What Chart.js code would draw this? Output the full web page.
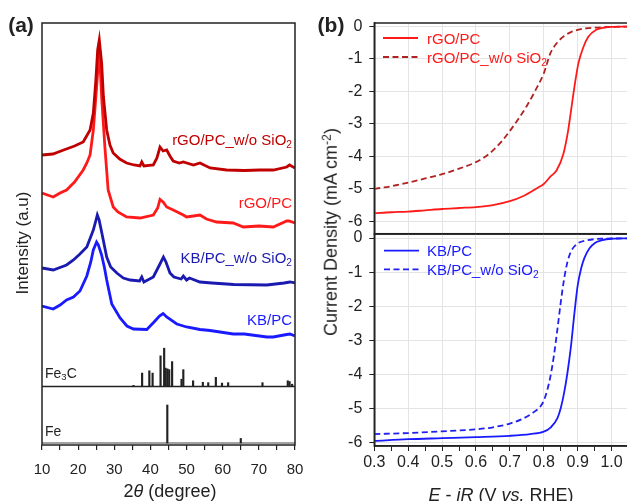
<!DOCTYPE html>
<html>
<head>
<meta charset="utf-8">
<script src="https://cdn.jsdelivr.net/npm/chart.js@4.4.0/dist/chart.umd.min.js"></script>
<style>
  html, body { margin: 0; padding: 0; background: #fff; overflow: hidden; }
  #wrap { position: relative; width: 627px; height: 501px; font-family: Arial, "Liberation Sans", sans-serif; color: #222; }
  canvas { position: absolute; }
  .t { position: absolute; white-space: nowrap; line-height: 1; }
  .c { transform: translate(-50%, -50%); }
  .r { transform: translate(-50%, -50%) rotate(-90deg); }
  .sub { font-size: 0.68em; vertical-align: -0.25em; }
  .sup { font-size: 0.68em; vertical-align: 0.45em; }
</style>
</head>
<body>
<div id="wrap">
  <canvas id="xrd" width="310" height="501" style="left:0;top:0"></canvas>
  <canvas id="lsvTop" width="320" height="235" style="left:310px;top:0"></canvas>
  <canvas id="lsvBot" width="320" height="276" style="left:310px;top:225px"></canvas>

  <div class="t c" style="left:21px;top:24px;font-size:21px;font-weight:bold">(a)</div>
  <div class="t c" style="left:331px;top:24px;font-size:21px;font-weight:bold">(b)</div>

  <div class="t r" style="left:22px;top:243px;font-size:17px">Intensity (a.u)</div>
  <div class="t c" style="left:170px;top:491px;font-size:18px">2<i>θ</i> (degree)</div>
  <div class="t r" style="left:330px;top:232px;font-size:18px">Current Density (mA cm<span class="sup">-2</span>)</div>
  <div class="t c" style="left:501px;top:495px;font-size:18px"><i>E</i> - <i>iR</i> (V <i>vs.</i> RHE)</div>

  <div class="t" style="right:335px;top:132px;font-size:15px;color:#C00000">rGO/PC_w/o SiO<span class="sub">2</span></div>
  <div class="t" style="right:335px;top:195px;font-size:15px;color:#FF1A1A">rGO/PC</div>
  <div class="t" style="right:335px;top:250px;font-size:15px;color:#1A1AB0">KB/PC_w/o SiO<span class="sub">2</span></div>
  <div class="t" style="right:335px;top:312px;font-size:15px;color:#1A1AFF">KB/PC</div>
  <div class="t" style="left:45px;top:366px;font-size:14px">Fe<span class="sub">3</span>C</div>
  <div class="t" style="left:45px;top:424px;font-size:14px">Fe</div>

  <div class="t" style="left:427px;top:31px;font-size:15px;color:#FF1A1A">rGO/PC</div>
  <div class="t" style="left:427px;top:50px;font-size:15px;color:#FF1A1A">rGO/PC_w/o SiO<span class="sub">2</span></div>
  <div class="t" style="left:427px;top:243px;font-size:15px;color:#1A1AFF">KB/PC</div>
  <div class="t" style="left:427px;top:262px;font-size:15px;color:#1A1AFF">KB/PC_w/o SiO<span class="sub">2</span></div>
</div>

<script>
// ---- (a) XRD patterns, intensity in a.u. as stacked in the figure ----
const rgoNoSiTheta = [10, 13, 16, 19, 21.4, 23.3, 24.2, 24.9, 25.4, 25.85, 26.5, 27.0, 27.9, 28.8, 29.7, 31.5, 33.4, 35.5, 37.1, 37.6,
  38.2, 40.8, 41.8, 42.65, 43.5, 44.5, 45.4, 46.3, 48.0, 49.1, 51.9, 53.7, 56.5, 61.1, 66, 70.3, 74, 77.7, 78.5, 80];
const rgoNoSiInt = [290, 291, 295, 299, 303, 315, 332, 365, 395, 405, 382, 348, 315, 300, 292, 286, 282, 280, 279, 283,
  279, 280, 287, 298, 294, 295, 289, 284, 282, 283, 280, 282, 277, 275, 274.5, 275, 275, 278, 280, 277];

const rgoTheta = [10, 11.5, 13.1, 15, 16.8, 19, 21.4, 22.4, 23.3, 24.2, 24.9, 25.6, 25.85, 26.5, 27.4, 28.3, 29.7, 31.0, 33.4,
  37.1, 40.8, 42.0, 42.65, 43.5, 44.5, 46.3, 49.1, 50, 53.7, 55.5, 58.3, 62.9, 65.7, 70, 74, 77.7, 78.3, 80];
const rgoInt = [252, 250, 248, 252, 255, 263, 275, 282, 290, 315, 348, 382, 398, 348, 298, 255, 238, 233, 228,
  227, 230, 237, 245.5, 243, 238, 235, 230, 228, 230, 226, 223, 222, 218, 219, 218, 224, 224, 222];

const kbNoSiTheta = [10, 13.1, 16.8, 18.7, 20.5, 22.4, 24.2, 24.8, 25.3, 25.8, 26.5, 27.9, 29.0, 30.7, 32.5, 34.4, 37.0, 37.6,
  38.2, 40.8, 42.5, 43.6, 44.3, 45.4, 46.5, 48.5, 49.1, 50.0, 50.8, 53.7, 57, 63, 72.2, 77, 78.6, 80];
const kbNoSiInt = [177, 175, 180, 185, 191, 198, 215, 223, 230, 225, 213, 188, 178, 172, 167, 165, 164, 168,
  163, 168, 180, 188, 183, 172, 168, 166, 169, 165, 167, 163, 162, 160.5, 160, 162, 163, 162];

const kbTheta = [10, 13.1, 15, 16.8, 18.7, 20.5, 22.4, 23.5, 24.2, 25.1, 25.6, 26.5, 27.3, 27.9, 29.3, 31.6, 33.5, 35.3,
  39.0, 41.0, 42.5, 43.5, 44.5, 47.3, 50, 53.7, 56.5, 62.9, 66, 72.2, 74, 77.7, 78.6, 80];
const kbInt = [139, 136, 140, 145, 148, 154, 169, 183, 195, 203, 200, 190, 177, 165, 141, 127, 119, 116,
  115.5, 123, 129, 131.5, 128, 121, 118, 115.5, 114.5, 111, 111, 108, 108, 110.5, 111, 109];

// reference patterns, relative intensity (%)
const fe3cTheta = [35.3, 37.7, 39.7, 40.6, 42.8, 43.8, 44.2, 44.7, 45.2, 46.0, 48.6, 49.1, 51.8, 54.5, 56.0, 58.1, 59.8, 61.5, 71.0, 78.0, 78.5, 79.2];
const fe3cRel = [3, 35, 41, 35, 80, 100, 48, 46, 44, 65, 19, 44, 15, 11, 10, 24, 9, 10, 10, 15, 13, 6];
const feTheta = [44.67, 65.0];
const feRel = [100, 12];

// ---- (b) LSV curves, E (V vs. RHE) and j (mA cm-2) ----
const rgoE = [0.30, 0.35, 0.40, 0.45, 0.50, 0.55, 0.60, 0.65, 0.70, 0.74, 0.78, 0.80, 0.82, 0.838, 0.858, 0.872, 0.882, 0.892, 0.902, 0.917, 0.931, 0.956, 0.98, 1.00, 1.05];
const rgoJ = [-5.75, -5.72, -5.70, -5.66, -5.62, -5.59, -5.56, -5.50, -5.38, -5.22, -4.98, -4.85, -4.62, -4.43, -3.92, -3.20, -2.48, -1.76, -1.15, -0.64, -0.33, -0.10, -0.04, -0.02, -0.01];
const rgoNoSiE = [0.30, 0.35, 0.40, 0.45, 0.50, 0.55, 0.60, 0.625, 0.65, 0.675, 0.70, 0.725, 0.75, 0.775, 0.80, 0.82, 0.84, 0.86, 0.88, 0.90, 0.93, 0.96, 1.00, 1.05];
const rgoNoSiJ = [-5.00, -4.92, -4.81, -4.68, -4.55, -4.38, -4.18, -4.03, -3.82, -3.55, -3.22, -2.85, -2.45, -1.98, -1.45, -0.82, -0.50, -0.30, -0.18, -0.11, -0.06, -0.04, -0.02, -0.01];
const kbE = [0.30, 0.40, 0.50, 0.60, 0.70, 0.76, 0.80, 0.82, 0.84, 0.85, 0.86, 0.87, 0.88, 0.89, 0.90, 0.91, 0.92, 0.935, 0.95, 0.97, 1.00, 1.05];
const kbJ = [-5.96, -5.91, -5.88, -5.85, -5.81, -5.76, -5.69, -5.57, -5.30, -5.00, -4.55, -3.95, -3.20, -2.25, -1.40, -0.90, -0.58, -0.30, -0.15, -0.07, -0.02, -0.01];
const kbNoSiE = [0.30, 0.40, 0.50, 0.60, 0.65, 0.70, 0.74, 0.77, 0.79, 0.80, 0.81, 0.82, 0.83, 0.84, 0.85, 0.86, 0.87, 0.88, 0.90, 0.93, 0.97, 1.05];
const kbNoSiJ = [-5.76, -5.73, -5.68, -5.62, -5.56, -5.45, -5.30, -5.12, -4.95, -4.78, -4.48, -4.05, -3.45, -2.70, -1.90, -1.20, -0.70, -0.40, -0.16, -0.06, -0.02, -0.01];

Chart.defaults.font.family = 'Arial, "Liberation Sans", sans-serif';
Chart.defaults.color = '#222';

const pts = (xs, ys) => xs.map((x, i) => ({ x: x, y: ys[i] }));
const isTenth = v => Math.abs(v * 10 - Math.round(v * 10)) < 1e-6;
const GRID = '#e4e4e4';

// fixed axis box sizes, no label overhang padding
const fixSize = (w, h) => s => {
  if (w !== null) s.width = w;
  if (h !== null) s.height = h;
  s.paddingTop = 0; s.paddingBottom = 0; s.paddingLeft = 0; s.paddingRight = 0;
};

// box around the plot area
const frame = {
  id: 'frame',
  afterDraw(chart) {
    const { ctx, chartArea: a } = chart;
    ctx.save();
    ctx.strokeStyle = '#222';
    ctx.lineWidth = 1.5;
    ctx.strokeRect(a.left, a.top, a.right - a.left, a.bottom - a.top);
    ctx.restore();
  }
};

// legend line samples, text is in the page
const legendLines = {
  id: 'legendLines',
  afterDatasetsDraw(chart, args, opts) {
    const ctx = chart.ctx;
    (opts.rows || []).forEach((r, i) => {
      const ds = chart.data.datasets[i];
      ctx.save();
      ctx.strokeStyle = ds.borderColor;
      ctx.lineWidth = ds.borderWidth;
      ctx.setLineDash(ds.borderDash || []);
      ctx.beginPath();
      ctx.moveTo(r.x0, r.y);
      ctx.lineTo(r.x1, r.y);
      ctx.stroke();
      ctx.restore();
    });
  }
};

// stacked positions of the reference sticks inside panel (a)
const fe3cBase = 58.5, fe3cScale = 0.383;
const feBase = 2, feScale = 0.38;

const xrdLine = (label, xs, ys, color) => ({
  label: label, data: pts(xs, ys), borderColor: color, borderWidth: 2.8,
  pointRadius: 0, tension: 0, fill: false
});

new Chart(document.getElementById('xrd'), {
  type: 'line',
  data: {
    datasets: [
      xrdLine('rGO/PC_w/o SiO2', rgoNoSiTheta, rgoNoSiInt, '#C00000'),
      xrdLine('rGO/PC', rgoTheta, rgoInt, '#FF1A1A'),
      xrdLine('KB/PC_w/o SiO2', kbNoSiTheta, kbNoSiInt, '#1A1AB0'),
      xrdLine('KB/PC', kbTheta, kbInt, '#1A1AFF'),
      {
        type: 'bar', label: 'Fe3C', grouped: false, barThickness: 1.5, backgroundColor: '#222',
        data: fe3cTheta.map((t, i) => ({ x: t, y: [fe3cBase, fe3cBase + fe3cRel[i] * fe3cScale] }))
      },
      {
        type: 'bar', label: 'Fe', grouped: false, barThickness: 1.5, backgroundColor: '#222',
        data: feTheta.map((t, i) => ({ x: t, y: [feBase, feBase + feRel[i] * feScale] }))
      },
      { label: 'Fe3C base', data: [{ x: 10, y: fe3cBase }, { x: 80, y: fe3cBase }], borderColor: '#222', borderWidth: 1.5, pointRadius: 0 },
      { label: 'Fe base', data: [{ x: 10, y: feBase }, { x: 80, y: feBase }], borderColor: '#444', borderWidth: 1, pointRadius: 0 }
    ]
  },
  options: {
    responsive: false,
    animation: false,
    layout: { padding: { left: 0, top: 23, right: 15, bottom: 0 } },
    plugins: { legend: { display: false }, tooltip: { enabled: false } },
    scales: {
      x: {
        type: 'linear', min: 10, max: 80, offset: false,
        ticks: { stepSize: 5, autoSkip: false, includeBounds: false, maxRotation: 0, padding: 11,
          font: { size: 15 }, callback: v => (v % 10 === 0 ? v : '') },
        grid: { offset: false, drawOnChartArea: false, drawTicks: true, tickLength: 5, color: '#222', lineWidth: 1.2 },
        border: { display: false },
        afterFit: fixSize(null, 56)
      },
      y: {
        type: 'linear', min: 0, max: 422,
        ticks: { display: false },
        grid: { display: false },
        border: { display: false },
        afterFit: fixSize(42, null)
      }
    }
  },
  plugins: [frame]
});

const lsvLine = (label, xs, ys, color, dash) => ({
  label: label, data: pts(xs, ys), borderColor: color, borderWidth: 1.8, borderDash: dash,
  pointRadius: 0, cubicInterpolationMode: 'monotone', fill: false
});

const yAxis = (min, max) => ({
  type: 'linear', min: min, max: max,
  ticks: { stepSize: 0.5, includeBounds: false, padding: 7, font: { size: 16 },
    callback: v => (Number.isInteger(v) ? v : '') },
  grid: { color: c => (Number.isInteger(c.tick.value) ? GRID : 'rgba(0,0,0,0)'), tickColor: '#222',
    tickLength: 5, drawTicks: true },
  border: { display: true, color: '#222', width: 1.5 },
  afterFit: fixSize(64.3, null)
});

const xAxis = (showLabels, h) => ({
  type: 'linear', min: 0.3, max: 1.05,
  ticks: { display: showLabels, stepSize: 0.05, autoSkip: false, includeBounds: false, maxRotation: 0,
    padding: 2, font: { size: 16 }, callback: v => (isTenth(v) ? v.toFixed(1) : '') },
  grid: { color: c => (isTenth(c.tick.value) ? GRID : 'rgba(0,0,0,0)'), tickColor: '#222',
    tickLength: 5, drawTicks: showLabels },
  border: { display: true, color: '#222', width: 1.5 },
  afterFit: fixSize(null, h)
});

new Chart(document.getElementById('lsvTop'), {
  type: 'line',
  data: {
    datasets: [
      lsvLine('rGO/PC', rgoE, rgoJ, '#FF1A1A', []),
      lsvLine('rGO/PC_w/o SiO2', rgoNoSiE, rgoNoSiJ, '#B22222', [6, 3.5])
    ]
  },
  options: {
    responsive: false,
    animation: false,
    layout: { padding: { left: 0, top: 23, right: 1.5, bottom: 1.3 } },
    plugins: {
      legend: { display: false }, tooltip: { enabled: false },
      legendLines: { rows: [{ x0: 73, x1: 108, y: 38 }, { x0: 73, x1: 108, y: 57 }] }
    },
    scales: { x: xAxis(false, 0), y: yAxis(-6.38, 0.1) }
  },
  plugins: [frame, legendLines]
});

new Chart(document.getElementById('lsvBot'), {
  type: 'line',
  data: {
    datasets: [
      lsvLine('KB/PC', kbE, kbJ, '#1A1AFF', []),
      lsvLine('KB/PC_w/o SiO2', kbNoSiE, kbNoSiJ, '#2020F0', [6, 3.5])
    ]
  },
  options: {
    responsive: false,
    animation: false,
    layout: { padding: { left: 0, top: 9, right: 1.5, bottom: 0 } },
    plugins: {
      legend: { display: false }, tooltip: { enabled: false },
      legendLines: { rows: [{ x0: 74, x1: 109, y: 25.7 }, { x0: 74, x1: 109, y: 44.3 }] }
    },
    scales: { x: xAxis(true, 55), y: yAxis(-6.11, 0.12) }
  },
  plugins: [frame, legendLines]
});
</script>
</body>
</html>
